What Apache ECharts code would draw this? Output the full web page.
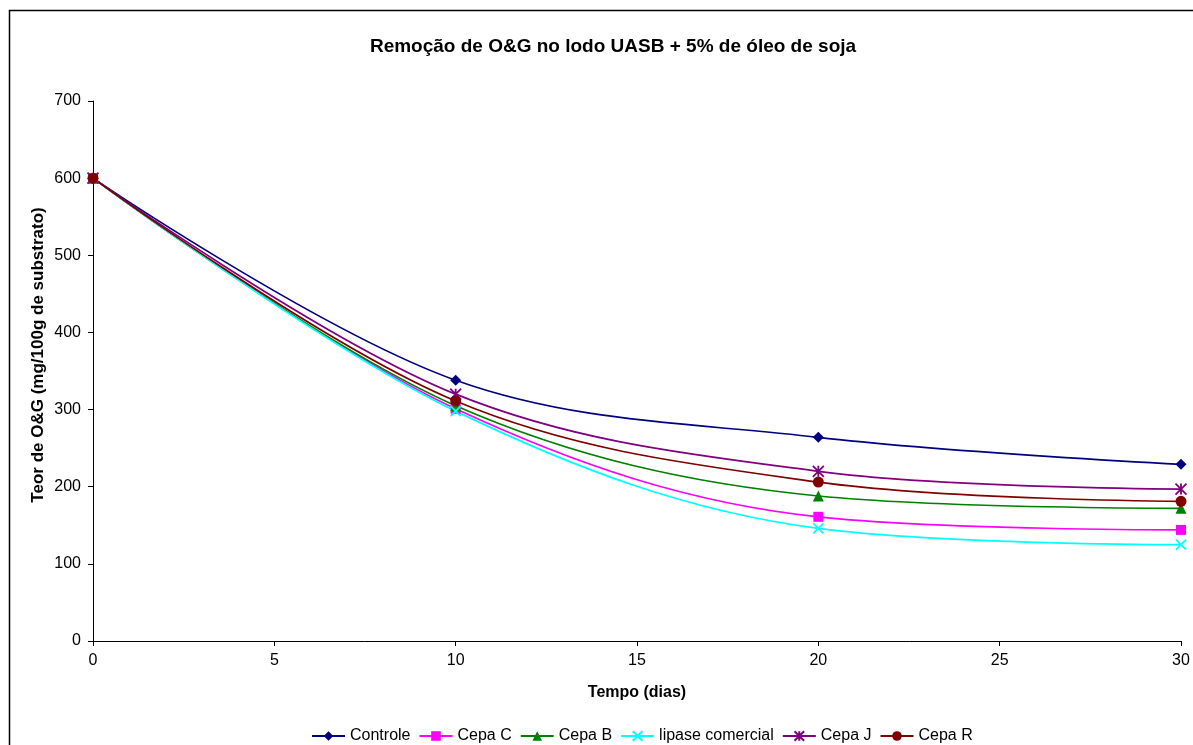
<!DOCTYPE html>
<html>
<head>
<meta charset="utf-8">
<script src="https://cdn.jsdelivr.net/npm/echarts@6/dist/echarts.min.js"></script>
<style>
  html, body { margin: 0; padding: 0; background: #fff; }
  #main { width: 1193px; height: 745px; }
</style>
</head>
<body>
<div id="main"></div>
<script>
// tempo (dias)
var days = [0, 10, 20, 30];
// teor de O&G por série
var controle = [600, 338, 264, 229];
var cepaC = [600, 301, 161, 144];
var cepaB = [600, 305, 188, 172];
var lipase = [600, 298, 146, 125];
var cepaJ = [600, 320, 220, 197];
var cepaR = [600, 311, 206, 181];

var crossPath = "path://M0,0L10,10M10,0L0,10";
var starPath = "path://M5,0L5,10M0,0L10,10M10,0L0,10";

function pairs(vals) {
  var out = [];
  for (var i = 0; i < days.length; i++) out.push([days[i], vals[i]]);
  return out;
}

function mkSeries(name, vals, color, symbol, size, stroke) {
  return {
    name: name,
    type: "line",
    smooth: 0.35,
    data: pairs(vals),
    symbol: symbol,
    symbolSize: size,
    showSymbol: true,
    lineStyle: { color: color, width: 1.7 },
    itemStyle: stroke
      ? { color: "rgba(0,0,0,0)", borderColor: color, borderWidth: 1.8 }
      : { color: color, borderWidth: 0 },
    emphasis: { disabled: true },
  };
}

var chart = echarts.init(document.getElementById("main"));
chart.setOption({
  animation: false,
  textStyle: { fontFamily: "Liberation Sans, Arial, sans-serif" },
  title: {
    text: "Remoção de O&G no lodo UASB + 5% de óleo de soja",
    left: 608,
    textAlign: "center",
    top: 32,
    textStyle: { fontSize: 19, fontWeight: "bold", color: "#000" },
  },
  graphic: [
    {
      type: "rect",
      shape: { x: 9.5, y: 10.5, width: 1300, height: 900 },
      style: { fill: "none", stroke: "#000", lineWidth: 1.5 },
      silent: true,
    },
    {
      type: "text",
      x: 38,
      y: 355,
      rotation: Math.PI / 2,
      style: {
        text: "Teor de O&G (mg/100g de substrato)",
        font: "bold 17px Liberation Sans, Arial, sans-serif",
        fill: "#000",
        align: "center",
        verticalAlign: "middle",
      },
      silent: true,
    },
  ],
  grid: { left: 93, right: 12, top: 101, bottom: 104, containLabel: false },
  xAxis: {
    type: "value",
    min: 0,
    max: 30,
    interval: 5,
    name: "Tempo (dias)",
    nameLocation: "middle",
    nameGap: 44,
    nameTextStyle: { fontSize: 16, fontWeight: "bold", color: "#000" },
    axisLine: { lineStyle: { color: "#000", width: 1 } },
    axisTick: { show: true, length: 5, inside: false, lineStyle: { color: "#000" } },
    axisLabel: { fontSize: 16, color: "#000", margin: 12 },
    splitLine: { show: false },
  },
  yAxis: {
    type: "value",
    min: 0,
    max: 700,
    interval: 100,
    axisLine: { show: true, lineStyle: { color: "#000", width: 1 } },
    axisTick: { show: true, length: 5, inside: false, lineStyle: { color: "#000" } },
    axisLabel: { fontSize: 16, color: "#000", margin: 12 },
    splitLine: { show: false },
  },
  legend: {
    top: 723,
    left: 306,
    itemWidth: 33,
    itemHeight: 12,
    itemGap: 8,
    textStyle: { fontSize: 16, color: "#000" },
    data: ["Controle", "Cepa C", "Cepa B", "lipase comercial", "Cepa J", "Cepa R"],
  },
  series: [
    mkSeries("Controle", controle, "#000080", "diamond", 11, false),
    mkSeries("Cepa C", cepaC, "#FF00FF", "rect", 10, false),
    mkSeries("Cepa B", cepaB, "#008000", "triangle", 11, false),
    mkSeries("lipase comercial", lipase, "#00FFFF", crossPath, 10, true),
    mkSeries("Cepa J", cepaJ, "#800080", starPath, 11, true),
    mkSeries("Cepa R", cepaR, "#800000", "circle", 11, false),
  ],
});
</script>
</body>
</html>
